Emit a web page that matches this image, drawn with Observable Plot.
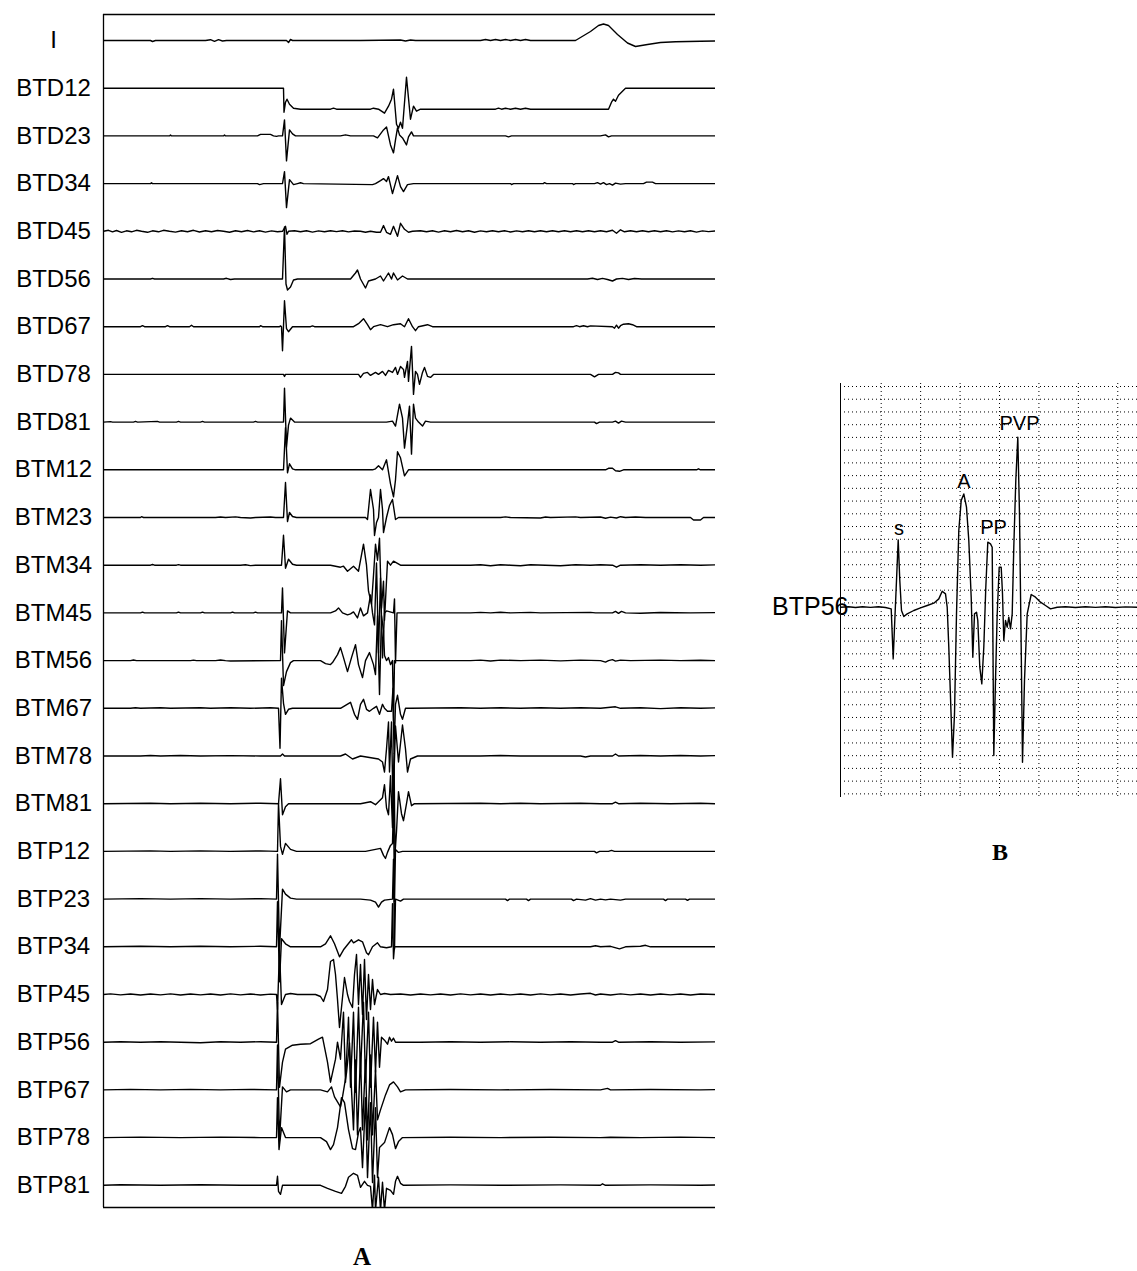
<!DOCTYPE html>
<html><head><meta charset="utf-8">
<script src="https://cdn.jsdelivr.net/npm/d3@7"></script>
<script src="https://cdn.jsdelivr.net/npm/@observablehq/plot@0.6"></script>
<style>
html,body{margin:0;padding:0;background:#fff;}
#page{position:relative;width:1137px;height:1271px;overflow:hidden;background:#fff;}
#panelA{position:absolute;left:0;top:0;}
#panelB{position:absolute;left:740px;top:380px;}
.cap{position:absolute;font-family:"Liberation Serif","Times New Roman",serif;font-weight:bold;text-align:center;width:100px;color:#000;}
</style></head><body>
<div id="page"><div id="panelA"></div><div id="panelB"></div>
<div class="cap" id="capA" style="left:312px;top:1244px;font-size:25px;line-height:25px;">A</div>
<div class="cap" id="capB" style="left:950px;top:840px;font-size:24px;line-height:24px;">B</div>
</div>
<script>
// ---- Panel A: channel names (top to bottom) ----
const channelNames = ["I","BTD12","BTD23","BTD34","BTD45","BTD56","BTD67","BTD78","BTD81",
  "BTM12","BTM23","BTM34","BTM45","BTM56","BTM67","BTM78","BTM81",
  "BTP12","BTP23","BTP34","BTP45","BTP56","BTP67","BTP78","BTP81"];

// each trace: [time (samples), deflection (upward positive)]
const trace_I = [[103,0],[150,0],[152,-1],[155,0],[205,0],[210,0.8],[214,-0.8],[218,0.8],[222,-0.5],[226,0],[286,0],[288,-2],[290,1],[292,0],[360,0],[400,0.5],[405,-0.5],[410,0.5],[415,0],[480,0],[485,1],[490,0],[495,1],[500,0],[505,1],[510,0],[515,1],[520,0],[525,1],[530,0],[575,0],[590,9],[598,15],[603,16.5],[608,15],[617,6],[627,-2.5],[635,-6],[647,-4],[660,-2],[675,-1.2],[700,-0.7],[715,-0.5]];
const trace_BTD12 = [[103,0],[283,0],[283.5,-24],[285,-14],[286.5,-11],[289,-16],[293,-20],[300,-21],[330,-21],[333,-20],[336,-21],[370,-21],[373,-20],[378,-21],[384,-25],[388,-18],[391,-11],[393,-1],[396,-36],[398,-40],[400,-34],[402,-40],[406,11],[410,-31],[413,-18],[416,-23],[420,-21],[495,-21],[498,-20],[501,-21],[505,-20],[510,-21],[515,-20],[520,-21],[525,-20],[530,-21],[608,-21],[611,-14],[613,-11],[615,-13],[618,-7],[625,0],[715,0]];
const trace_BTD23 = [[103,0],[169,0],[170,1],[171,0],[223,0],[224,1],[225,0],[257,0],[260,1.5],[270,1.5],[273,0],[276,-0.5],[278,0],[282,0],[284,16],[286,-25],[289,6],[292,2],[295,0],[340,0],[345,1],[350,0],[373,0],[377,-2],[380,2],[383,6],[386,9],[390,-9],[393,-17],[395,-4],[397,8],[399,1],[402,-2],[406,-9],[408,-1],[411,4],[413,0],[505,0],[508,-1],[511,0],[600,0],[605,1],[608,-1],[611,0],[715,0]];
const trace_BTD34 = [[103,0],[150,0],[151,0.8],[152,0],[257,0],[259,-1],[263,0],[282,0],[284,12],[286,-24],[289,4],[293,-1],[297,0],[300,0.8],[303,0],[372,-1],[375,0],[380,3],[383,5],[386,2],[388,7],[392,-10],[397,8],[400,-3],[403,-8],[407,-1],[413,0],[510,0],[511,-1],[513,0],[543,0],[544,1],[546,0],[572,0],[573,-1],[575,0],[594,0],[597,1],[600,-0.5],[603,1],[606,-1],[609,0],[612,-1.5],[615,0.5],[620,-0.5],[625,0],[643,0],[646,1.5],[652,1.5],[655,0],[715,0]];
const trace_BTD45 = [[103,0],[108,1],[112,-0.5],[116,0.8],[121,-1],[126,0.5],[131,-0.5],[136,1],[141,0],[147,-1],[152,0.5],[158,-0.5],[163,1],[169,0],[175,-0.8],[181,0.6],[187,-0.5],[193,1],[199,-0.7],[205,0.5],[211,-0.5],[217,0.8],[223,0],[229,-1],[235,0.6],[241,-0.4],[247,0.8],[253,-0.6],[259,0.5],[265,-0.8],[271,0.4],[277,-0.5],[282,0],[285,5],[286.5,-3],[288,0],[294,0.5],[300,-0.5],[306,0.5],[312,-0.8],[318,0.4],[324,-0.5],[330,0.6],[336,-0.3],[342,0.5],[348,-0.6],[354,0.3],[360,0],[365,-1],[370,0],[376,-1],[380,-1],[383,5.7],[386,-1],[390,-3],[393,5],[397,-5],[400,8],[404,2],[408,-1],[412,0],[420,0.5],[426,-0.5],[432,0.5],[438,-0.8],[444,0.5],[450,-0.5],[456,0.8],[462,-0.5],[468,0.5],[474,-1],[480,0.4],[486,-0.5],[492,0.6],[498,-0.4],[504,0.5],[510,-0.7],[516,0.4],[522,-0.5],[528,0.6],[534,-0.4],[540,0.5],[546,-0.5],[552,0.6],[558,-0.5],[564,0.5],[570,-0.4],[576,0.5],[582,-0.5],[588,0.5],[594,-0.4],[600,0.5],[606,-0.5],[612,1],[616,-2],[620,1.5],[624,-0.5],[630,0.5],[636,-0.5],[642,0.6],[648,-0.4],[654,0.5],[660,-0.5],[666,0.5],[672,-0.6],[678,0.4],[684,-0.5],[690,0.5],[696,-0.8],[702,0.4],[708,-0.3],[715,0.3]];
const trace_BTD56 = [[103,0],[150,0],[152,0.7],[154,0],[223,0],[226,0.7],[230,-0.5],[234,0],[282,0],[284,52],[285.5,-5],[287,-11],[290,-8],[293,-1],[297,0],[350,0],[355,6],[357,9],[360,0],[365,-9],[368,-2],[375,0],[380,3],[383,-2],[388,6],[391,0],[393,6],[397,-1],[402,3],[407,0],[587,0],[592,0.8],[597,-0.5],[602,0.6],[607,-0.5],[612,-2],[616,0],[622,0.6],[628,-0.5],[634,0.5],[641,0],[715,0]];
const trace_BTD67 = [[103,0],[140,0],[142,1],[144,0],[165,0],[167,1],[169,0],[189,0],[191,1.5],[193,0],[259,0],[260,1],[262,0],[279,0],[280,0.8],[281,0],[282,-24],[284,26],[286,-2],[288,-5],[292,0],[310,0],[312,0.8],[314,0],[353,0],[358,3],[363,8],[367,2],[370,-3],[373,0],[380,2],[387,0],[393,2],[400,3],[404,0],[408,8],[412,0],[415,-4],[418,0],[427,2],[432,0],[573,0],[576,1],[579,0],[583,1],[587,0],[590,0.8],[612,0],[614,-1.5],[616,1.5],[618,-1.5],[620,1],[623,2.5],[628,3],[632,2],[636,0],[715,0]];
const trace_BTD78 = [[103,0],[283,0],[284,-2],[285,0],[358,0],[360,-3],[363,1],[367,2],[370,-1],[375,2],[378,0],[382,3],[385,-1],[388,4],[392,2],[395,7],[397,0],[400,8],[403,5],[404,-3],[407,13],[408,-7],[411,28],[413,-20],[415,3],[417,0],[419,-10],[422,2],[424,7],[427,-2],[430,-3],[433,0],[590,0],[594,-2.5],[598,0],[612,0],[615,2],[618,1.5],[620,0],[715,0]];
const trace_BTD81 = [[103,0],[110,0.5],[112,0],[133,0],[135,0.7],[137,0],[157,0.7],[159,0],[176,0],[178,0.7],[180,0],[200,0],[202,0.7],[204,0],[253,0],[255,0.7],[257,0],[283,0],[284,34],[286,-25],[288,-3],[290,4],[294,0],[386,0],[392,1],[395,-4],[399,18],[402,4],[404,-26],[407,-2],[409,16],[411,-32],[413,18],[415,4],[418,0],[422,-4],[425,1],[430,0],[594,0],[596,-1.5],[599,0],[612,0],[615,1],[618,-1],[621,1],[625,0],[634,0],[715,0]];
const trace_BTM12 = [[103,0],[283,0],[285,42],[287,-3],[289,6],[292,1],[295,0],[372,0],[375,1],[378,4],[382,0],[386,10],[390,-14],[393,-27],[395,-10],[397,18],[400,12],[404,-6],[408,0],[413,0],[605,0],[608,1.5],[612,1.5],[615,-1],[619,-1.5],[623,0],[696,0],[698,1],[700,0],[715,0]];
const trace_BTM23 = [[103,0],[140,0],[141,0.8],[143,0],[215,0],[220,0.5],[225,0],[235,0.6],[240,0],[250,-0.5],[255,0],[270,0.5],[275,0],[283,0],[285,35],[287,-4],[289,5],[292,1],[296,0],[365,0],[367,-2],[368,8],[370,28],[373,8],[374,-18],[376,-5],[378,0],[380,28],[382,8],[383,-15],[386,0],[389,12],[392,18],[395,-2],[398,0],[403,0],[500,0],[505,0.6],[510,0],[540,-0.5],[545,0.5],[550,0],[575,0.6],[580,0],[600,0.5],[605,-0.8],[610,0.4],[616,-0.5],[620,0.8],[625,0],[635,0.5],[645,0],[690,0],[693,-2.5],[700,-2.5],[703,0],[715,0]];
const trace_BTM34 = [[103,0],[150,0],[152,0.7],[154,0],[176,0],[178,0.6],[180,0],[240,0],[245,0.5],[250,-0.4],[255,0],[281,0],[283,30],[285,-3],[288,6],[292,1],[296,0],[330,0],[340,-2],[343,-1],[347,-6],[353,-1],[358,-6],[363,21],[366,0],[368,-26],[371,-39],[373,-10],[375,21],[377,5],[379,27],[381,-43],[383,-16],[384,-55],[387,4],[390,0],[393,4],[400,0],[470,0],[480,0.5],[490,-0.5],[500,0.5],[510,0],[520,-0.6],[530,0.4],[545,0],[560,-0.5],[575,0.5],[590,0],[600,0.4],[612,0],[616,-2],[620,0],[640,0.4],[660,0],[680,0.4],[700,0],[715,0.3]];
const trace_BTM45 = [[103,0],[140,0],[142,0.8],[144,0],[176,0],[178,0.8],[180,0],[200,0],[202,0.8],[204,0],[230,0],[232,0.8],[234,0],[253,0],[255,0.8],[257,0],[281,0],[282,25],[284,-40],[287,2],[290,0],[330,0],[335,2],[338,5],[342,0],[347,-2],[350,-1],[353,1],[357,-5],[360,5],[363,-3],[367,0],[370,18],[372,0],[374,-12],[376,50],[378,-40],[380,35],[382,-45],[384,0],[386,2],[393,0],[394,14],[395,-50],[396.5,0],[400,0],[470,0],[480,0.5],[490,0],[500,0.6],[510,0],[530,0.5],[540,0],[590,0.5],[595,0],[612,0],[615,1.5],[618,-0.5],[621,1.5],[625,0],[640,-0.3],[660,0.4],[690,0],[715,0.3]];
const trace_BTM56 = [[103,0],[130,0],[133,0.6],[136,0],[190,0],[193,0.5],[196,0],[215,0],[220,0.6],[225,0],[230,-0.4],[280,0],[281,40],[283,-25],[286,-11],[290,-2],[293,0],[320,0],[325,-3],[330,-4],[332,-2],[337,6],[340,13],[343,3],[347,-11],[351,3],[355,16],[358,-4],[362,-17],[365,0],[369,8],[373,-4],[375,-14],[377,45],[379,-34],[381,45],[383,30],[384,5],[386,0],[388,3],[390,-4],[392,0],[393,-60],[394,0],[398,0],[470,0],[480,0.5],[490,-0.4],[500,0.5],[520,0],[540,0.5],[560,-0.3],[580,0.5],[600,0],[605,-1.5],[608,0],[612,1],[615,-0.5],[620,0.5],[630,0],[660,0.5],[680,0],[700,0.4],[715,0]];
const trace_BTM67 = [[103,0],[130,0],[135,0.6],[140,0],[160,0.6],[170,0],[200,0.5],[210,0],[230,0.5],[250,0],[270,0.6],[278,0],[279.5,-40],[281,30],[283,5],[285,-6],[288,-1],[292,0],[340,0],[350,6],[354,-6],[357,-11],[360,4],[363,9],[366,-1],[369,-3],[373,0],[376,2],[379,-6],[382,4],[384,0],[387,-3],[391,-3],[392.5,20],[393.5,-45],[395,4],[397,13],[400,-6],[402,-11],[405,0],[410,0],[460,0.5],[480,0],[500,0.6],[520,0],[540,0.5],[560,0],[580,0.5],[600,0],[615,1.5],[620,0],[640,0.5],[660,-0.3],[680,0.5],[700,0],[715,0.4]];
const trace_BTM78 = [[103,0],[140,0],[150,0.5],[160,0],[180,0.5],[200,0],[230,0.4],[260,0],[280,0],[282,2],[284,0],[340,0],[345,2],[352,-3],[360,0],[378,-3],[382,-6],[384,-16],[386,7],[388,34],[389,-16],[391,34],[392.5,-50],[395,30],[398,-6],[402,31],[405,7],[407,-16],[410,-3],[417,0],[480,0],[500,0.5],[520,0],[580,0],[585,-1],[590,0],[612,0],[615,2],[618,0],[640,0.5],[660,0],[680,0.5],[700,0],[715,0.4]];
const trace_BTM81 = [[103,0],[150,0.5],[170,0],[200,0.5],[230,0],[260,0.5],[278,0],[280,25],[282,-11],[285,-3],[288,0],[360,0],[370,2],[375,-1],[382,6],[384,19],[386,-4],[388,-11],[390,28],[392,-24],[393.5,50],[394.5,-50],[396,-28],[398,12],[401,-10],[403,-17],[406,0],[408,12],[411,-2],[414,0],[480,0.5],[500,0],[520,0.5],[540,0],[580,0.5],[600,0],[612,0],[615,1.5],[618,0],[640,0.5],[670,0],[700,0.5],[715,0]];
const trace_BTP12 = [[103,0],[150,0.5],[170,0],[200,0.5],[230,0],[260,0.5],[277,0],[278,48],[280,5],[282,-3],[285,8],[290,2],[296,0],[365,0],[375,2],[380,3],[383,-4],[385,-7],[387,-1],[390,6],[392,8],[393,50],[394,-50],[395,2],[398,-1],[402,0],[480,0],[560,0],[594,0],[596,-1.5],[599,0],[608,0],[611,1],[614,0],[715,0]];
const trace_BTP23 = [[103,0],[140,0.5],[170,0],[200,0.5],[230,0],[260,0.5],[276,0],[277,45],[279,-50],[282,10],[285,5],[290,1],[296,0],[360,0],[370,-1],[375,-3],[378,-8],[381,-3],[384,-1],[392,0],[393,40],[394,-50],[395,0],[400,-2],[403,0],[505,0],[507,-1.5],[509,0],[526,0],[528,-1.5],[530,0],[571,0],[573,-1.5],[576,0],[585,-1],[590,0.5],[595,-1],[600,0],[605,-0.8],[610,0],[620,-1],[625,0],[663,0],[665,-1.5],[667,0],[685,0],[687,-1.2],[689,0],[715,0]];
const trace_BTP34 = [[103,0],[140,0.5],[170,0],[200,0.5],[230,0],[260,0.5],[276,0],[277,45],[279,-35],[281,8],[285,3],[290,0],[320,0],[325,3],[330,11],[334,3],[339,-10],[343,-3],[347,2],[351,7],[353,4],[358,7],[362,5],[366,-6],[368,-8],[372,0],[377,4],[380,0],[386,-1],[391,0],[392,43],[393,-12],[394,0],[398,0],[590,0],[595,1],[600,0],[610,0.5],[619,-2],[625,0],[640,0.5],[645,1.5],[650,0],[715,0]];
const trace_BTP45 = [[103,0],[110,0.6],[120,-0.4],[130,0.5],[140,-0.5],[150,0.5],[160,-0.4],[170,0.6],[180,-0.5],[190,0.5],[200,-0.4],[210,0.5],[220,-0.5],[230,0.6],[240,-0.4],[250,0.5],[260,-0.5],[270,0.4],[276,0],[277,-15],[279,45],[281,-10],[285,0],[290,1],[297,0],[315,0],[320,-2],[323,-7],[327,5],[330,33],[333,35],[335,20],[337,-5],[339,-33],[342,-3],[344,17],[347,0],[349,-7],[352,-13],[354,20],[356,40],[358,-10],[360,30],[362,-20],[364,35],[366,-25],[368,20],[370,-15],[372,15],[374,-10],[377,5],[380,0],[384,1],[390,0],[400,0.5],[410,-0.5],[420,0.5],[430,-0.4],[440,0.5],[450,-0.5],[460,0.6],[470,-0.4],[480,0.5],[490,-0.5],[500,0.5],[510,-0.4],[520,0.5],[530,-0.5],[540,0.6],[550,-0.4],[560,0.5],[570,-0.5],[580,0.5],[590,1.2],[595,-0.5],[600,0.5],[610,-0.5],[620,0.6],[630,-0.4],[640,0.5],[650,-0.5],[660,0.5],[670,-0.4],[680,0.5],[690,-0.5],[700,0.5],[715,0]];
const trace_BTP56 = [[103,0],[120,0.5],[140,0],[160,0.5],[180,0],[200,-0.5],[220,0.5],[240,0],[260,0.5],[276,0],[277,40],[279,-45],[282,-20],[285,-7],[292,-3],[300,-2],[310,-1.5],[318,3],[322,5],[327,-20],[330,-40],[335,-17],[337,0],[340,-17],[343,30],[345,-40],[348,25],[350,-45],[353,30],[355,-50],[358,35],[360,-30],[363,40],[365,-40],[368,30],[370,-45],[373,25],[375,-30],[377,20],[379,-25],[381,5],[384,2],[387,-2],[389,5],[391,1],[393,4],[395,0],[420,0],[450,0.4],[480,0],[510,0.4],[540,0],[570,0.4],[600,0],[612,0],[615,1.5],[618,0],[650,0.4],[680,0],[715,0.3]];
const trace_BTP67 = [[103,0],[130,0.5],[160,0],[190,0.5],[220,0],[250,0.5],[276,0],[277,45],[279,-50],[282,3],[286,-2],[290,0],[320,0],[327,-2],[331,3],[334,-7],[340,-17],[342,-7],[346,17],[349,47],[351,0],[353,-40],[355,30],[357,-45],[360,35],[362,-40],[365,30],[367,-50],[370,35],[372,-45],[375,20],[377,-30],[380,-20],[385,-5],[389,5],[393,8],[397,3],[400,-2],[405,0],[450,0.4],[500,0],[550,0.4],[600,0],[607,1.5],[610,0],[650,0.4],[700,0],[715,0.3]];
const trace_BTP78 = [[103,0],[140,0.5],[180,0],[220,0.5],[260,0],[276,0],[277,40],[278.5,-12],[281,10],[285,0],[320,0],[326,-4],[330,-12],[333,-7],[337,10],[341,40],[344,35],[348,8],[352,-11],[355,-12],[358,5],[360,10],[362,-30],[365,40],[367,-40],[370,35],[372,-45],[375,30],[377,-40],[379,-10],[384,-5],[389,10],[392,3],[395,-11],[398,-4],[402,0],[450,0.4],[500,0],[550,0.4],[600,0],[610,0.4],[640,0],[680,0.5],[715,0]];
const trace_BTP81 = [[103,0],[120,0.5],[160,0],[200,0.5],[240,0],[276,0],[277,9],[278,-6],[280,-9],[282,0],[320,0],[327,-3],[335,-6],[341,-8],[345,-1],[348,8],[353,12],[357,10],[360,-2],[364,4],[367,0],[370,-1],[372,-25],[374,10],[375,-25],[378,8],[380,-25],[382,3],[384,-25],[386,-3],[390,-5],[393,-9],[395,4],[397,9],[400,2],[403,0],[450,0.4],[500,0],[560,0.4],[600,0],[602,1.5],[605,0],[650,0.4],[700,0],[715,0.3]];

const tracesA = [trace_I, trace_BTD12, trace_BTD23, trace_BTD34, trace_BTD45, trace_BTD56, trace_BTD67, trace_BTD78, trace_BTD81,
  trace_BTM12, trace_BTM23, trace_BTM34, trace_BTM45, trace_BTM56, trace_BTM67, trace_BTM78, trace_BTM81,
  trace_BTP12, trace_BTP23, trace_BTP34, trace_BTP45, trace_BTP56, trace_BTP67, trace_BTP78, trace_BTP81];

// ---- Panel B: BTP56 enlarged ----
const panelBChannel = "BTP56";
const traceB = [[0,0],[8,0.5],[15,-0.3],[22,0.4],[30,-0.2],[38,0.5],[45,-0.3],[50.7,-1.7],[51.7,-26.7],[52.7,-51.7],[54,-20],[56,26.7],[57.7,67.3],[59.3,26.7],[61,-3.3],[63.3,-9.3],[66.7,-6.7],[73.3,-3.3],[80,-0.7],[86.7,1.7],[93.3,4],[98.3,8.3],[101.7,16],[105,13.3],[106.7,0],[108.3,-40],[110,-90],[112,-150],[114,-106.7],[116,-6.7],[118.3,76.7],[120.7,106.7],[123.3,113.3],[126,100],[128.3,66.7],[130.7,10],[132.3,-50],[134,-6.7],[136,-5],[137.3,-13.3],[139.3,-60],[141.3,-76.7],[143.3,-40],[145.3,20],[147.3,65],[150,63.3],[151.7,60],[153.3,-148.3],[155,-73],[156.7,-6.7],[158.7,40],[160.7,40],[162,13.3],[163.3,-33.3],[165,-13.3],[166.7,-20],[168.3,-10],[170,-21.7],[171.7,-6.7],[173.3,60],[175.3,126.7],[177.3,170],[179,93],[180.7,-40],[182,-155],[184,-73],[186.7,-6.7],[190.7,12.7],[195,10],[200,5],[205,1.7],[210,-1.7],[216.7,0],[225,0.5],[235,-0.3],[245,0.5],[255,-0.2],[265,0.4],[275,-0.3],[285,0.3],[297,0]];
const annoText = ["s","A","PP","PVP"];
const annoTime = [58.5, 123.5, 153, 179];
const annoValue = [79, 125.5, 80, 183.5];

// ---- build panel A ----
const ROW = 47.7;
const xDomA = [103, 715];
const yDomA = [-1167, 26];
const rowsA = tracesA.flatMap((tr, i) => tr.map(([t, v]) => ({channel: channelNames[i], t, y: v - i * ROW})));
const labelsA = channelNames.map((name, i) => ({name, y: -i * ROW}));

const plotA = Plot.plot({
  width: 720, height: 1215,
  marginLeft: 103, marginRight: 5, marginTop: 14, marginBottom: 8,
  x: {domain: xDomA, axis: null},
  y: {domain: yDomA, axis: null},
  style: {background: "white", fontFamily: "'Liberation Sans', Arial, sans-serif", color: "#000"},
  marks: [
    Plot.ruleX([xDomA[0]], {stroke: "#000", strokeWidth: 1.3}),
    Plot.ruleY(yDomA, {stroke: "#000", strokeWidth: 1.3}),
    Plot.line(rowsA, {x: "t", y: "y", z: "channel", stroke: "#000", strokeWidth: 1.4, clip: true}),
    Plot.text(labelsA, {y: "y", text: "name", frameAnchor: "left", dx: -50, textAnchor: "middle", fontSize: 24, fill: "#000"})
  ]
});
document.getElementById("panelA").appendChild(plotA);

// ---- build panel B ----
const xDomB = [0, 297];
const yDomB = [-190.3, 223.7];
const rowsB = traceB.map(([t, v]) => ({t, v}));
const gridYB = d3.range(0, 33).map(k => 220.7 - 12.73 * k);
const gridXB = d3.range(0, 7).map(k => 40.7 + 39.43 * k);
const annos = annoText.map((text, i) => ({text, t: annoTime[i], v: annoValue[i]}));

const plotB = Plot.plot({
  width: 397, height: 420,
  marginLeft: 100, marginRight: 0, marginTop: 3, marginBottom: 3,
  x: {domain: xDomB, axis: null},
  y: {domain: yDomB, axis: null},
  style: {background: "transparent", fontFamily: "'Liberation Sans', Arial, sans-serif", color: "#000"},
  marks: [
    Plot.gridY(gridYB, {stroke: "#000", strokeOpacity: 1, strokeWidth: 1, strokeDasharray: "1,3"}),
    Plot.gridX(gridXB, {stroke: "#000", strokeOpacity: 1, strokeWidth: 1, strokeDasharray: "1,3"}),
    Plot.ruleX([xDomB[0]], {stroke: "#000", strokeWidth: 1}),
    Plot.line(rowsB, {x: "t", y: "v", stroke: "#000", strokeWidth: 1.4}),
    Plot.text([panelBChannel], {text: d => d, y: () => 0, frameAnchor: "left", dx: 8, textAnchor: "end", fontSize: 25, fill: "#000"}),
    Plot.text(annos, {x: "t", y: "v", text: "text", textAnchor: "middle", fontSize: 20, fill: "#000"})
  ]
});
document.getElementById("panelB").appendChild(plotB);
</script>
</body></html>
